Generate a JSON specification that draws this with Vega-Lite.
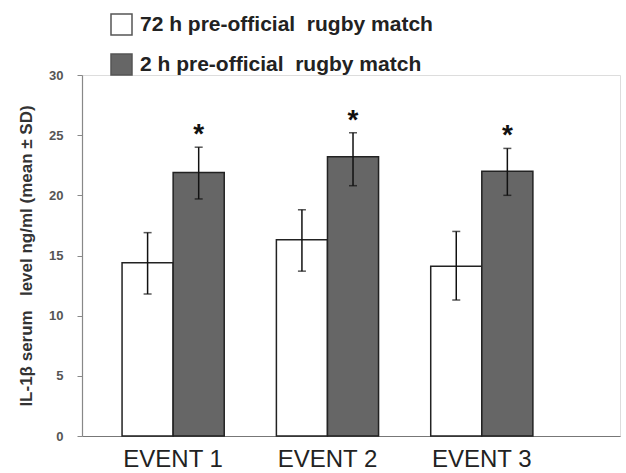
{
  "$schema": "https://vega.github.io/schema/vega-lite/v6.json",
  "autosize": {"type": "none"},
  "width": 538,
  "height": 361,
  "padding": {"left": 82, "top": 75, "right": 6, "bottom": 37},
  "background": "white",
  "data": {
    "values": [
      {"event": "EVENT 1", "group": "72 h pre-official\u00a0 rugby match", "mean": 14.4, "lo": 11.8, "hi": 16.9, "star": ""},
      {"event": "EVENT 1", "group": "2 h pre-official\u00a0 rugby match", "mean": 21.9, "lo": 19.7, "hi": 24.0, "star": "*"},
      {"event": "EVENT 2", "group": "72 h pre-official\u00a0 rugby match", "mean": 16.3, "lo": 13.7, "hi": 18.8, "star": ""},
      {"event": "EVENT 2", "group": "2 h pre-official\u00a0 rugby match", "mean": 23.2, "lo": 20.8, "hi": 25.2, "star": "*"},
      {"event": "EVENT 3", "group": "72 h pre-official\u00a0 rugby match", "mean": 14.1, "lo": 11.3, "hi": 17.0, "star": ""},
      {"event": "EVENT 3", "group": "2 h pre-official\u00a0 rugby match", "mean": 22.0, "lo": 20.0, "hi": 23.9, "star": "*"}
    ]
  },
  "encoding": {
    "x": {
      "field": "event",
      "type": "nominal",
      "scale": {"paddingInner": 0.338, "paddingOuter": 0.412, "align": 0.315},
      "axis": {
        "title": null,
        "labelAngle": 0,
        "labelFont": "Liberation Sans",
        "labelFontSize": 24,
        "labelColor": "#222222",
        "labelPadding": 11,
        "labelBaseline": "top",
        "ticks": false,
        "domainColor": "#777777",
        "domainWidth": 1.2
      }
    },
    "xOffset": {
      "field": "group",
      "type": "nominal",
      "sort": ["72 h pre-official\u00a0 rugby match", "2 h pre-official\u00a0 rugby match"],
      "scale": {"paddingInner": 0, "paddingOuter": 0}
    }
  },
  "layer": [
    {
      "mark": {"type": "bar", "stroke": "#222222", "strokeWidth": 1.5},
      "encoding": {
        "y": {
          "field": "mean",
          "type": "quantitative",
          "scale": {"domain": [0, 30]},
          "axis": {
            "values": [0, 5, 10, 15, 20, 25, 30],
            "grid": false,
            "title": "IL-1β serum\u00a0\u00a0\u00a0level ng/ml (mean ± SD)",
            "titleFont": "Liberation Sans",
            "titleFontSize": 17,
            "titleFontWeight": "bold",
            "titleColor": "#333333",
            "titlePadding": 13,
            "labelFont": "Liberation Sans",
            "labelFontSize": 13,
            "labelFontWeight": "bold",
            "labelColor": "#555555",
            "labelPadding": 14,
            "tickSize": 5,
            "tickColor": "#888888",
            "domainColor": "#888888",
            "domainWidth": 1.2
          }
        },
        "fill": {
          "field": "group",
          "type": "nominal",
          "scale": {
            "domain": ["72 h pre-official\u00a0 rugby match", "2 h pre-official\u00a0 rugby match"],
            "range": ["#ffffff", "#666666"]
          },
          "legend": {
            "title": null,
            "orient": "none",
            "legendX": 28,
            "legendY": -62,
            "padding": 0,
            "symbolType": "square",
            "symbolSize": 441,
            "symbolStrokeColor": "#555555",
            "symbolStrokeWidth": 1.5,
            "labelFont": "Liberation Sans",
            "labelFontSize": 21,
            "labelFontWeight": "bold",
            "labelColor": "#222222",
            "labelOffset": 7,
            "labelLimit": 600,
            "rowPadding": 13
          }
        }
      }
    },
    {
      "mark": {"type": "rule", "color": "#111111", "strokeWidth": 1.5},
      "encoding": {
        "y": {"field": "lo", "type": "quantitative"},
        "y2": {"field": "hi"}
      }
    },
    {
      "mark": {"type": "tick", "color": "#111111", "thickness": 1.5, "size": 8},
      "encoding": {"y": {"field": "lo", "type": "quantitative"}}
    },
    {
      "mark": {"type": "tick", "color": "#111111", "thickness": 1.5, "size": 8},
      "encoding": {"y": {"field": "hi", "type": "quantitative"}}
    },
    {
      "mark": {"type": "text", "font": "Liberation Sans", "fontSize": 28, "fontWeight": "bold", "color": "#111111", "baseline": "middle", "dy": -12},
      "encoding": {
        "y": {"field": "hi", "type": "quantitative"},
        "text": {"field": "star"}
      }
    }
  ]
}
